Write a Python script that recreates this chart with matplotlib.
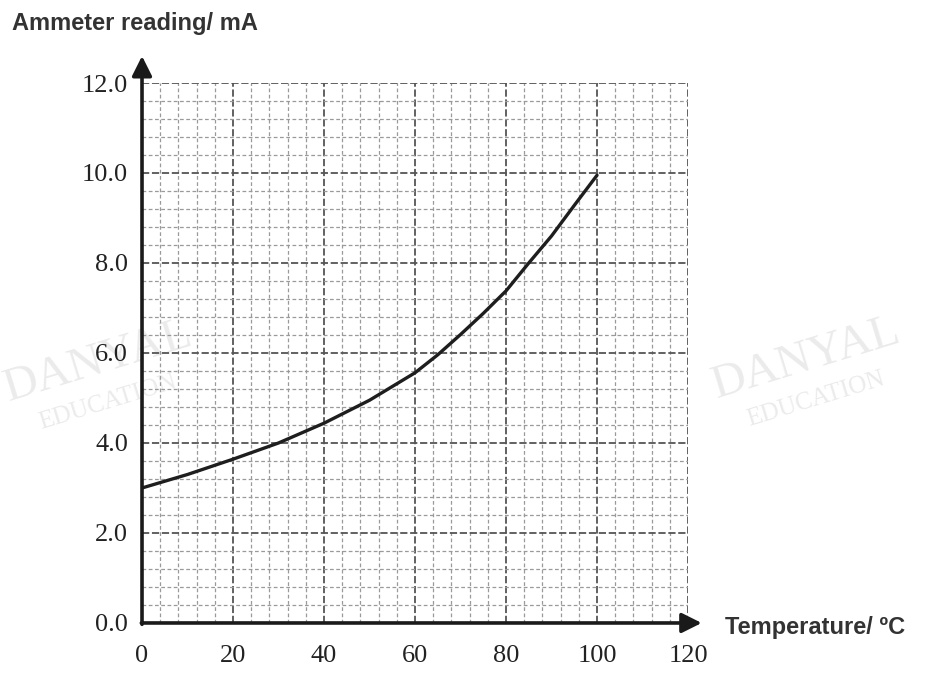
import numpy as np
import matplotlib.pyplot as plt

# values
temperature = [0, 10, 20, 30, 40, 50, 60, 65, 70, 75, 80, 85, 90, 95, 100]
current_mA = [3.0, 3.3, 3.64, 4.0, 4.44, 4.95, 5.56, 5.96, 6.41, 6.88, 7.38, 8.0, 8.6, 9.28, 9.95]

x_ticks = [0, 20, 40, 60, 80, 100, 120]
y_ticks = [0.0, 2.0, 4.0, 6.0, 8.0, 10.0, 12.0]

fig = plt.figure(figsize=(9.38, 6.77), dpi=100)

# faint watermarks, behind everything
for x, y in [(0.105, 0.465), (0.86, 0.47)]:
    fig.text(x, y, "DANYAL", family="Liberation Serif", fontsize=34, color="#ebebeb",
             rotation=17, ha="center", va="center", zorder=-5)
    fig.text(x + 0.01, y - 0.06, "EDUCATION", family="Liberation Serif", fontsize=18, color="#ebebeb",
             rotation=17, ha="center", va="center", zorder=-5)

ax = fig.add_axes([0.1514, 0.0798, 0.5821, 0.7976])
ax.patch.set_alpha(0)
ax.set_xlim(0, 120)
ax.set_ylim(0, 12)

# graph paper
ax.set_xticks(x_ticks)
ax.set_yticks(y_ticks)
ax.set_xticks(np.arange(0, 121, 4), minor=True)
ax.set_yticks(np.arange(0, 12.01, 0.4), minor=True)
ax.grid(which="major", color="#555555", lw=1.3, ls=(0, (4, 1.5)))
ax.grid(which="minor", color="#9a9a9a", lw=0.9, ls=(0, (3, 2)))
ax.set_axisbelow(True)

for s in ax.spines.values():
    s.set_visible(False)

ax.tick_params(which="both", length=0)
ax.tick_params(axis="y", pad=10)
ax.tick_params(axis="x", pad=16)
ax.set_yticklabels([f"{v:.1f}" for v in y_ticks], family="Liberation Serif", fontsize=19, color="#222222")
ax.set_xticklabels([str(v) for v in x_ticks], family="Liberation Serif", fontsize=19, color="#222222")

# axes with arrow heads
ax.annotate("", xy=(0, 12.6), xytext=(0, -0.03), annotation_clip=False,
            arrowprops=dict(arrowstyle="-|>", lw=2.6, color="#1a1a1a", mutation_scale=30, shrinkA=0, shrinkB=0))
ax.annotate("", xy=(123, 0), xytext=(-0.15, 0), annotation_clip=False,
            arrowprops=dict(arrowstyle="-|>", lw=2.6, color="#1a1a1a", mutation_scale=30, shrinkA=0, shrinkB=0))

ax.plot(temperature, current_mA, color="#1e1e1e", lw=2.4, solid_capstyle="round", solid_joinstyle="round")

fig.text(0.013, 0.955, "Ammeter reading/ mA", family="Liberation Sans", fontweight="bold",
         fontsize=17, color="#333333", va="baseline")
fig.text(0.773, 0.073, "Temperature/ \u00baC", family="Liberation Sans", fontweight="bold",
         fontsize=17, color="#333333", va="center")

plt.savefig("out.png", dpi=100)
